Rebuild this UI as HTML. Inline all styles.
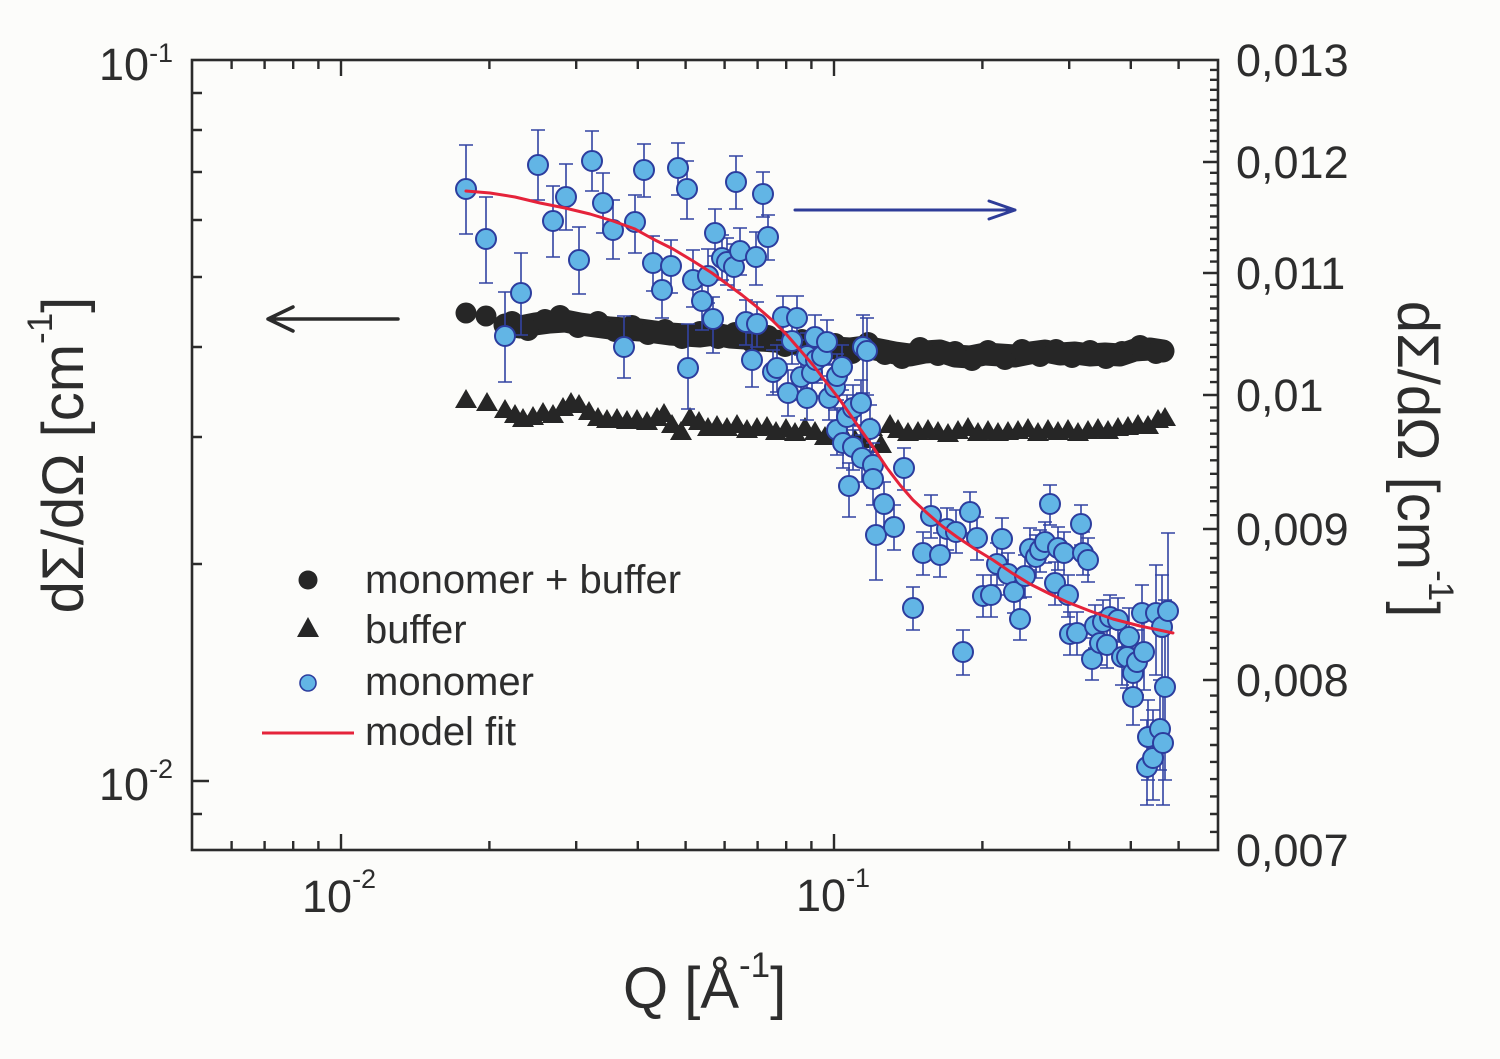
<!DOCTYPE html>
<html><head><meta charset="utf-8"><style>
html,body{margin:0;padding:0;background:#fcfcfa;}
svg{display:block;}
text{font-family:"Liberation Sans",Arial,sans-serif;fill:#2d2d2d;}
</style></head><body>
<svg width="1500" height="1059" viewBox="0 0 1500 1059" xmlns="http://www.w3.org/2000/svg">
<rect x="0" y="0" width="1500" height="1059" fill="#fcfcfa"/>

<!-- black circle band (monomer + buffer) -->
<g fill="#262626">
<circle cx="466" cy="313" r="10.5"/><circle cx="486" cy="316" r="10.5"/>
</g>
<polyline fill="none" stroke="#262626" stroke-width="23" stroke-linejoin="round" stroke-linecap="round"
points="505,325 520,327 535,324 550,322 565,321 580,324 595,326 610,328 625,329 640,330 655,332 670,334 685,335 700,336 715,334 730,337 745,338 760,340 775,341 790,343 805,344 820,346 835,348 850,349 865,347 880,350 895,353 910,355 925,352 940,351 955,356 970,357 985,354 1000,355 1015,356 1030,353 1045,351 1060,354 1075,353 1090,355 1105,354 1120,355 1135,350 1150,349 1163,351"/>
<g fill="#262626">
<circle cx="512" cy="322" r="11"/><circle cx="528" cy="330" r="11"/><circle cx="545" cy="320" r="11"/><circle cx="560" cy="316" r="11"/><circle cx="578" cy="327" r="11"/><circle cx="598" cy="322" r="11"/><circle cx="615" cy="331" r="11"/><circle cx="632" cy="326" r="11"/><circle cx="648" cy="334" r="11"/><circle cx="665" cy="330" r="11"/><circle cx="682" cy="338" r="11"/><circle cx="700" cy="332" r="11"/><circle cx="718" cy="338" r="11"/><circle cx="735" cy="333" r="11"/><circle cx="752" cy="342" r="11"/><circle cx="768" cy="336" r="11"/><circle cx="785" cy="346" r="11"/><circle cx="802" cy="340" r="11"/><circle cx="818" cy="350" r="11"/><circle cx="835" cy="344" r="11"/><circle cx="852" cy="353" r="11"/><circle cx="868" cy="343" r="11"/><circle cx="885" cy="354" r="11"/><circle cx="902" cy="358" r="11"/><circle cx="920" cy="348" r="11"/><circle cx="938" cy="355" r="11"/><circle cx="955" cy="352" r="11"/><circle cx="972" cy="360" r="11"/><circle cx="988" cy="351" r="11"/><circle cx="1005" cy="359" r="11"/><circle cx="1022" cy="350" r="11"/><circle cx="1040" cy="356" r="11"/><circle cx="1056" cy="350" r="11"/><circle cx="1072" cy="357" r="11"/><circle cx="1090" cy="351" r="11"/><circle cx="1106" cy="358" r="11"/><circle cx="1122" cy="352" r="11"/><circle cx="1140" cy="346" r="11"/><circle cx="1156" cy="353" r="11"/>
</g>

<!-- triangles (buffer) -->
<path fill="#262626" d="M466 389l11 19h-22zM487 392l11 19h-22zM505 399l11 19h-22zM515 404l11 19h-22zM523 408l11 19h-22zM533 406l11 19h-22zM543 402l11 19h-22zM553 404l11 19h-22zM563 397l11 19h-22zM571 392l11 19h-22zM579 394l11 19h-22zM589 401l11 19h-22zM598 407l11 19h-22zM607 409l11 19h-22zM617 408l11 19h-22zM627 410l11 19h-22zM637 409l11 19h-22zM647 411l11 19h-22zM657 407l11 19h-22zM664 403l11 19h-22zM672 414l11 19h-22zM681 421l11 19h-22zM690 407l11 19h-22zM699 411l11 19h-22zM708 417l11 19h-22zM717 415l11 19h-22zM727 417l11 19h-22zM737 414l11 19h-22zM747 419l11 19h-22zM757 417l11 19h-22zM767 416l11 19h-22zM776 421l11 19h-22zM786 418l11 19h-22zM795 422l11 19h-22zM805 417l11 19h-22zM815 421l11 19h-22zM825 426l11 19h-22zM835 421l11 19h-22zM845 426l11 19h-22zM855 429l11 19h-22zM863 429l11 19h-22zM872 417l11 19h-22zM881 434l11 19h-22zM890 414l11 19h-22zM898 419l11 19h-22zM908 422l11 19h-22zM918 421l11 19h-22zM928 419l11 19h-22zM938 421l11 19h-22zM948 423l11 19h-22zM958 420l11 19h-22zM968 417l11 19h-22zM978 422l11 19h-22zM988 420l11 19h-22zM998 422l11 19h-22zM1008 421l11 19h-22zM1018 420l11 19h-22zM1028 418l11 19h-22zM1038 422l11 19h-22zM1048 419l11 19h-22zM1058 421l11 19h-22zM1068 419l11 19h-22zM1078 422l11 19h-22zM1088 420l11 19h-22zM1098 418l11 19h-22zM1108 420l11 19h-22zM1118 417l11 19h-22zM1128 416l11 19h-22zM1138 414l11 19h-22zM1148 415l11 19h-22zM1158 409l11 19h-22zM1165 407l11 19h-22z"/>

<!-- error bars -->
<path fill="none" stroke="#3243a2" stroke-width="1.6" d="M466 145V234M459 145h14M459 234h14M486 197V283M479 197h14M479 283h14M505 292V382M498 292h14M498 382h14M521 253V335M514 253h14M514 335h14M538 130V200M531 130h14M531 200h14M553 186V257M546 186h14M546 257h14M566 164V230M559 164h14M559 230h14M579 227V294M572 227h14M572 294h14M592 131V191M585 131h14M585 191h14M603 173V233M596 173h14M596 233h14M613 200V259M606 200h14M606 259h14M624 316V378M617 316h14M617 378h14M635 195V253M628 195h14M628 253h14M644 144V197M637 144h14M637 197h14M653 236V291M646 236h14M646 291h14M662 265V318M655 265h14M655 318h14M671 240V293M664 240h14M664 293h14M678 143V195M671 143h14M671 195h14M687 161V219M680 161h14M680 219h14M688 324V409M681 324h14M681 409h14M693 250V307M686 250h14M686 307h14M702 273V330M695 273h14M695 330h14M708 249V303M701 249h14M701 303h14M713 297V353M706 297h14M706 353h14M715 209V256M708 209h14M708 256h14M722 235V280M715 235h14M715 280h14M727 238V285M720 238h14M720 285h14M734 244V290M727 244h14M727 290h14M736 156V209M729 156h14M729 209h14M740 228V275M733 228h14M733 275h14M746 300V345M739 300h14M739 345h14M752 333V387M745 333h14M745 387h14M756 232V285M749 232h14M749 285h14M757 302V347M750 302h14M750 347h14M763 172V217M756 172h14M756 217h14M768 215V260M761 215h14M761 260h14M773 350V395M766 350h14M766 395h14M777 345V392M770 345h14M770 392h14M783 296V340M776 296h14M776 340h14M788 370V416M781 370h14M781 416h14M792 318V364M785 318h14M785 364h14M797 296V340M790 296h14M790 340h14M801 355V400M794 355h14M794 400h14M807 333V380M800 333h14M800 380h14M807 376V420M800 376h14M800 420h14M812 350V396M805 350h14M805 396h14M815 315V360M808 315h14M808 360h14M816 338V383M809 338h14M809 383h14M822 333V380M815 333h14M815 380h14M827 320V365M820 320h14M820 365h14M829 376V420M822 376h14M822 420h14M835 364V410M828 364h14M828 410h14M837 354V400M830 354h14M830 400h14M837 408V455M830 408h14M830 455h14M842 345V390M835 345h14M835 390h14M843 420V468M836 420h14M836 468h14M847 395V440M840 395h14M840 440h14M849 463V517M842 463h14M842 517h14M853 385V430M846 385h14M846 430h14M853 425V470M846 425h14M846 470h14M861 380V426M854 380h14M854 426h14M862 435V482M855 435h14M855 482h14M863 315V393M856 315h14M856 393h14M867 318V395M860 318h14M860 395h14M870 405V452M863 405h14M863 452h14M873 443V488M866 443h14M866 488h14M873 455V505M866 455h14M866 505h14M876 505V580M869 505h14M869 580h14M884 482V527M877 482h14M877 527h14M894 505V550M887 505h14M887 550h14M904 448V490M897 448h14M897 490h14M913 587V630M906 587h14M906 630h14M923 532V575M916 532h14M916 575h14M931 495V538M924 495h14M924 538h14M940 533V577M933 533h14M933 577h14M947 508V550M940 508h14M940 550h14M956 510V553M949 510h14M949 553h14M963 630V675M956 630h14M956 675h14M970 492V533M963 492h14M963 533h14M977 517V560M970 517h14M970 560h14M983 575V617M976 575h14M976 617h14M991 575V617M984 575h14M984 617h14M997 543V585M990 543h14M990 585h14M1002 518V560M995 518h14M995 560h14M1008 553V595M1001 553h14M1001 595h14M1014 570V613M1007 570h14M1007 613h14M1020 598V640M1013 598h14M1013 640h14M1025 555V597M1018 555h14M1018 597h14M1030 528V570M1023 528h14M1023 570h14M1036 535V578M1029 535h14M1029 578h14M1040 530V572M1033 530h14M1033 572h14M1045 522V563M1038 522h14M1038 563h14M1050 485V525M1043 485h14M1043 525h14M1055 562V605M1048 562h14M1048 605h14M1058 527V570M1051 527h14M1051 570h14M1064 532V575M1057 532h14M1057 575h14M1068 575V617M1061 575h14M1061 617h14M1070 612V655M1063 612h14M1063 655h14M1077 612V655M1070 612h14M1070 655h14M1081 505V545M1074 505h14M1074 545h14M1083 532V575M1076 532h14M1076 575h14M1088 538V582M1081 538h14M1081 582h14M1092 638V680M1085 638h14M1085 680h14M1095 605V648M1088 605h14M1088 648h14M1100 620V665M1093 620h14M1093 665h14M1103 600V645M1096 600h14M1096 645h14M1107 622V668M1100 622h14M1100 668h14M1110 595V640M1103 595h14M1103 640h14M1118 598V642M1111 598h14M1111 642h14M1122 630V685M1115 630h14M1115 685h14M1127 628V688M1120 628h14M1120 688h14M1129 608V665M1122 608h14M1122 665h14M1133 645V705M1126 645h14M1126 705h14M1133 665V725M1126 665h14M1126 725h14M1137 630V695M1130 630h14M1130 695h14M1142 585V645M1135 585h14M1135 645h14M1144 620V690M1137 620h14M1137 690h14M1148 700V780M1141 700h14M1141 780h14M1147 720V805M1140 720h14M1140 805h14M1153 710V800M1146 710h14M1146 800h14M1156 565V675M1149 565h14M1149 675h14M1160 680V770M1153 680h14M1153 770h14M1162 575V690M1155 575h14M1155 690h14M1163 690V805M1156 690h14M1156 805h14M1165 600V780M1158 600h14M1158 780h14M1168 533V690M1161 533h14M1161 690h14"/>

<!-- blue circles (monomer) -->
<g fill="#62b5e5" stroke="#2c3d9e" stroke-width="2">
<circle cx="466" cy="189" r="10"/><circle cx="486" cy="239" r="10"/><circle cx="505" cy="336" r="10"/><circle cx="521" cy="293" r="10"/><circle cx="538" cy="165" r="10"/><circle cx="553" cy="221" r="10"/><circle cx="566" cy="197" r="10"/><circle cx="579" cy="260" r="10"/><circle cx="592" cy="161" r="10"/><circle cx="603" cy="203" r="10"/><circle cx="613" cy="230" r="10"/><circle cx="624" cy="347" r="10"/><circle cx="635" cy="222" r="10"/><circle cx="644" cy="170" r="10"/><circle cx="653" cy="263" r="10"/><circle cx="662" cy="290" r="10"/><circle cx="671" cy="266" r="10"/><circle cx="678" cy="168" r="10"/><circle cx="687" cy="189" r="10"/><circle cx="688" cy="368" r="10"/><circle cx="693" cy="280" r="10"/><circle cx="702" cy="301" r="10"/><circle cx="708" cy="276" r="10"/><circle cx="713" cy="319" r="10"/><circle cx="715" cy="233" r="10"/><circle cx="722" cy="258" r="10"/><circle cx="727" cy="262" r="10"/><circle cx="734" cy="267" r="10"/><circle cx="736" cy="182" r="10"/><circle cx="740" cy="251" r="10"/><circle cx="746" cy="322" r="10"/><circle cx="752" cy="360" r="10"/><circle cx="756" cy="257" r="10"/><circle cx="757" cy="324" r="10"/><circle cx="763" cy="194" r="10"/><circle cx="768" cy="237" r="10"/><circle cx="773" cy="372" r="10"/><circle cx="777" cy="368" r="10"/><circle cx="783" cy="317" r="10"/><circle cx="788" cy="393" r="10"/><circle cx="792" cy="341" r="10"/><circle cx="797" cy="318" r="10"/><circle cx="801" cy="377" r="10"/><circle cx="807" cy="356" r="10"/><circle cx="807" cy="398" r="10"/><circle cx="812" cy="373" r="10"/><circle cx="815" cy="337" r="10"/><circle cx="816" cy="360" r="10"/><circle cx="822" cy="356" r="10"/><circle cx="827" cy="342" r="10"/><circle cx="829" cy="398" r="10"/><circle cx="835" cy="387" r="10"/><circle cx="837" cy="376" r="10"/><circle cx="837" cy="430" r="10"/><circle cx="842" cy="367" r="10"/><circle cx="843" cy="443" r="10"/><circle cx="847" cy="417" r="10"/><circle cx="849" cy="486" r="10"/><circle cx="853" cy="408" r="10"/><circle cx="853" cy="447" r="10"/><circle cx="861" cy="403" r="10"/><circle cx="862" cy="458" r="10"/><circle cx="863" cy="347" r="10"/><circle cx="867" cy="351" r="10"/><circle cx="870" cy="429" r="10"/><circle cx="873" cy="465" r="10"/><circle cx="873" cy="479" r="10"/><circle cx="876" cy="535" r="10"/><circle cx="884" cy="504" r="10"/><circle cx="894" cy="527" r="10"/><circle cx="904" cy="468" r="10"/><circle cx="913" cy="608" r="10"/><circle cx="923" cy="553" r="10"/><circle cx="931" cy="516" r="10"/><circle cx="940" cy="555" r="10"/><circle cx="947" cy="529" r="10"/><circle cx="956" cy="532" r="10"/><circle cx="963" cy="652" r="10"/><circle cx="970" cy="512" r="10"/><circle cx="977" cy="538" r="10"/><circle cx="983" cy="596" r="10"/><circle cx="991" cy="595" r="10"/><circle cx="997" cy="564" r="10"/><circle cx="1002" cy="539" r="10"/><circle cx="1008" cy="574" r="10"/><circle cx="1014" cy="592" r="10"/><circle cx="1020" cy="619" r="10"/><circle cx="1025" cy="576" r="10"/><circle cx="1030" cy="549" r="10"/><circle cx="1036" cy="557" r="10"/><circle cx="1040" cy="550" r="10"/><circle cx="1045" cy="542" r="10"/><circle cx="1050" cy="504" r="10"/><circle cx="1055" cy="583" r="10"/><circle cx="1058" cy="548" r="10"/><circle cx="1064" cy="553" r="10"/><circle cx="1068" cy="595" r="10"/><circle cx="1070" cy="634" r="10"/><circle cx="1077" cy="633" r="10"/><circle cx="1081" cy="524" r="10"/><circle cx="1083" cy="553" r="10"/><circle cx="1088" cy="560" r="10"/><circle cx="1092" cy="659" r="10"/><circle cx="1095" cy="626" r="10"/><circle cx="1100" cy="643" r="10"/><circle cx="1103" cy="622" r="10"/><circle cx="1107" cy="645" r="10"/><circle cx="1110" cy="617" r="10"/><circle cx="1118" cy="620" r="10"/><circle cx="1122" cy="657" r="10"/><circle cx="1127" cy="657" r="10"/><circle cx="1129" cy="637" r="10"/><circle cx="1133" cy="673" r="10"/><circle cx="1133" cy="697" r="10"/><circle cx="1137" cy="662" r="10"/><circle cx="1142" cy="613" r="10"/><circle cx="1144" cy="652" r="10"/><circle cx="1148" cy="737" r="10"/><circle cx="1147" cy="767" r="10"/><circle cx="1153" cy="758" r="10"/><circle cx="1156" cy="613" r="10"/><circle cx="1160" cy="729" r="10"/><circle cx="1162" cy="627" r="10"/><circle cx="1163" cy="743" r="10"/><circle cx="1165" cy="687" r="10"/><circle cx="1168" cy="611" r="10"/>
</g>

<!-- model fit -->
<polyline fill="none" stroke="#e5233a" stroke-width="3" stroke-linejoin="round" stroke-linecap="round"
points="466,191 490,193 515,197 540,203 565,208 590,214 613,221 635,229 653,239 673,249 693,261 712,273 727,284 742,295 757,307 772,320 787,335 800,350 813,365 826,382 840,400 856,423 873,447 887,468 900,485 913,500 927,513 942,526 957,537 975,549 993,560 1012,573 1030,584 1050,594 1067,602 1090,611 1113,619 1140,626 1173,633"/>

<!-- frame -->
<rect x="192" y="60" width="1026" height="790" fill="none" stroke="#2b2b2b" stroke-width="2.6"/>

<!-- ticks -->
<path fill="none" stroke="#2b2b2b" stroke-width="2.4" d="
M341 850v-16M834 850v-16M341 60v16M834 60v16
M231.6 850v-9M264.6 850v-9M293.2 850v-9M318.4 850v-9M489.4 850v-9M576.2 850v-9M637.8 850v-9M685.6 850v-9M724.6 850v-9M757.6 850v-9M786.2 850v-9M811.4 850v-9M982.4 850v-9M1069.2 850v-9M1130.8 850v-9M1178.6 850v-9
M231.6 60v9M264.6 60v9M293.2 60v9M318.4 60v9M489.4 60v9M576.2 60v9M637.8 60v9M685.6 60v9M724.6 60v9M757.6 60v9M786.2 60v9M811.4 60v9M982.4 60v9M1069.2 60v9M1130.8 60v9M1178.6 60v9
M192 781h17
M192 93h10M192 130h10M192 172h10M192 220h10M192 277h10M192 347h10M192 437h10M192 564h10M192 814h10
M1218 162h-15M1218 273h-15M1218 395h-15M1218 529h-15M1218 680h-15
M1218 69.9h-8M1218 79.8h-8M1218 89.8h-8M1218 99.9h-8M1218 110.1h-8M1218 120.3h-8M1218 130.6h-8M1218 141.1h-8M1218 151.6h-8
M1218 172.8h-8M1218 183.6h-8M1218 194.5h-8M1218 205.4h-8M1218 216.5h-8M1218 227.6h-8M1218 238.9h-8M1218 250.2h-8M1218 261.6h-8
M1218 284.8h-8M1218 296.6h-8M1218 308.5h-8M1218 320.5h-8M1218 332.6h-8M1218 344.8h-8M1218 357.1h-8M1218 369.6h-8M1218 382.1h-8
M1218 407.6h-8M1218 420.6h-8M1218 433.7h-8M1218 446.9h-8M1218 460.3h-8M1218 473.8h-8M1218 487.4h-8M1218 501.2h-8M1218 515.2h-8
M1218 543.5h-8M1218 558h-8M1218 572.5h-8M1218 587.3h-8M1218 602.2h-8M1218 617.3h-8M1218 632.6h-8M1218 648.1h-8M1218 663.7h-8
M1218 695.6h-8M1218 711.9h-8M1218 728.4h-8M1218 745h-8M1218 761.9h-8M1218 779.1h-8M1218 796.4h-8M1218 814h-8M1218 831.9h-8"/>

<!-- arrows -->
<path fill="none" stroke="#2b2b2b" stroke-width="3.5" stroke-linecap="round" stroke-linejoin="round" d="M398 319H268M293 307L268 319L293 331"/>
<path fill="none" stroke="#2e3c98" stroke-width="3" stroke-linecap="round" stroke-linejoin="round" d="M795 210H1015M989 201L1015 210L989 219"/>

<!-- legend -->
<circle cx="308" cy="580" r="9.5" fill="#262626"/>
<path d="M308 617l11 20h-22z" fill="#262626"/>
<circle cx="308" cy="683" r="8" fill="#62b5e5" stroke="#2c3d9e" stroke-width="1.6"/>
<line x1="262" y1="733" x2="354" y2="733" stroke="#e5233a" stroke-width="3"/>
<text x="365" y="593" font-size="40">monomer + buffer</text>
<text x="365" y="643" font-size="40">buffer</text>
<text x="365" y="695" font-size="40">monomer</text>
<text x="365" y="745" font-size="40">model fit</text>

<!-- tick labels -->
<text x="99" y="80" font-size="45">10<tspan font-size="27" dy="-18">-1</tspan></text>
<text x="99" y="800" font-size="45">10<tspan font-size="27" dy="-22">-2</tspan></text>
<text x="302" y="912" font-size="45">10<tspan font-size="27" dy="-24">-2</tspan></text>
<text x="796" y="911" font-size="45">10<tspan font-size="27" dy="-24">-1</tspan></text>

<text x="1236" y="76" font-size="45">0,013</text>
<text x="1236" y="178" font-size="45">0,012</text>
<text x="1236" y="289" font-size="45">0,011</text>
<text x="1236" y="411" font-size="45">0,01</text>
<text x="1236" y="545" font-size="45">0,009</text>
<text x="1236" y="696" font-size="45">0,008</text>
<text x="1236" y="866" font-size="45">0,007</text>

<!-- axis titles -->
<text transform="translate(83,455) rotate(-90)" text-anchor="middle" font-size="58">dΣ/dΩ [cm<tspan font-size="35" dy="-31">-1</tspan><tspan dy="31">]</tspan></text>
<text transform="translate(1398,459) rotate(90)" text-anchor="middle" font-size="58">dΣ/dΩ [cm<tspan font-size="35" dy="-31">-1</tspan><tspan dy="31">]</tspan></text>
<text x="623" y="1008" font-size="58">Q [Å<tspan font-size="35" dy="-31">-1</tspan><tspan dy="31">]</tspan></text>
</svg>
</body></html>
